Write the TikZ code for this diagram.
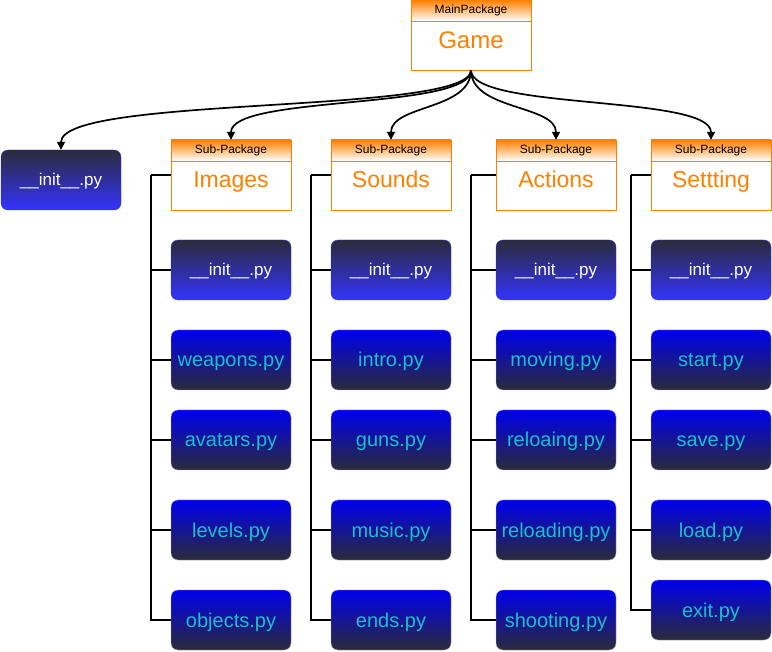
\documentclass[tikz,border=0pt]{standalone}
\usepackage{fontspec}
\setmainfont{Liberation Sans}
\usetikzlibrary{arrows.meta}
\definecolor{pkgorange}{RGB}{255,128,0}
\definecolor{darkslate}{RGB}{43,43,58}
\definecolor{initblue}{RGB}{51,51,255}
\definecolor{fileblue}{RGB}{0,0,238}
\definecolor{filecyan}{RGB}{26,190,204}
\tikzset{
  pkg/.style={draw=pkgorange, fill=white, minimum width=120pt, minimum height=70pt,
              text=pkgorange, font=\fontsize{23}{23}\selectfont, text height=25pt, text depth=0pt},
  pkghead/.style={draw=pkgorange, top color=pkgorange, bottom color=white, minimum width=120pt,
              minimum height=21pt, anchor=north, font=\fontsize{12}{12}\selectfont, inner sep=0pt},
  initbox/.style={draw=initblue, rounded corners=7pt, top color=darkslate, bottom color=initblue,
              minimum width=120pt, minimum height=60pt, text=white, font=\fontsize{17}{17}\selectfont,
              text height=12pt, text depth=0pt},
  filebox/.style={draw=gray!70, rounded corners=7pt, top color=fileblue, bottom color=darkslate,
              minimum width=120pt, minimum height=60pt, text=filecyan, font=\fontsize{20}{20}\selectfont,
              text height=14pt, text depth=0pt},
  branch/.style={line width=1.8pt},
  arr/.style={line width=1.7pt, -{Triangle[length=8pt,width=8pt]}}
}
\begin{document}
\begin{tikzpicture}[x=1pt,y=-1pt]
  \useasboundingbox (0,0) rectangle (772,652);
  % main package
  \node[pkg, font=\fontsize{24}{24}\selectfont, text height=28pt] (game) at (471,35) {Game};
  \node[pkghead] (gamehd) at (game.north) {MainPackage};
  \node[initbox] (initL) at (61,180) {\_\_init\_\_.py};
  % sub-packages
  \node[pkg] (img) at (231,175) {Images};
  \node[pkghead] (imghd) at (img.north) {Sub-Package};
  \node[pkg] (snd) at (391,175) {Sounds};
  \node[pkghead] (sndhd) at (snd.north) {Sub-Package};
  \node[pkg] (act) at (556,175) {Actions};
  \node[pkghead] (acthd) at (act.north) {Sub-Package};
  \node[pkg] (set) at (711,175) {Settting};
  \node[pkghead] (sethd) at (set.north) {Sub-Package};
  % modules
  \node[initbox] (img0) at (231,270) {\_\_init\_\_.py};
  \node[filebox] (img1) at (231,360) {weapons.py};
  \node[filebox] (img2) at (231,440) {avatars.py};
  \node[filebox] (img3) at (231,530) {levels.py};
  \node[filebox] (img4) at (231,620) {objects.py};
  \node[initbox] (snd0) at (391,270) {\_\_init\_\_.py};
  \node[filebox] (snd1) at (391,360) {intro.py};
  \node[filebox] (snd2) at (391,440) {guns.py};
  \node[filebox] (snd3) at (391,530) {music.py};
  \node[filebox] (snd4) at (391,620) {ends.py};
  \node[initbox] (act0) at (556,270) {\_\_init\_\_.py};
  \node[filebox] (act1) at (556,360) {moving.py};
  \node[filebox] (act2) at (556,440) {reloaing.py};
  \node[filebox] (act3) at (556,530) {reloading.py};
  \node[filebox] (act4) at (556,620) {shooting.py};
  \node[initbox] (set0) at (711,270) {\_\_init\_\_.py};
  \node[filebox] (set1) at (711,360) {start.py};
  \node[filebox] (set2) at (711,440) {save.py};
  \node[filebox] (set3) at (711,530) {load.py};
  \node[filebox] (set4) at (711,610) {exit.py};
  % tree lines
  \foreach \p/\d in {img/20,snd/20,act/25,set/20} {
    \coordinate (\p trunk) at ([xshift=-\d pt]\p.west);
    \draw[branch] (\p.west) -- (\p trunk);
    \foreach \i in {0,...,4}
      \draw[branch] (\p trunk) |- (\p\i.west);
  }
  % arrows
  \draw[arr] (game.south) .. controls +(0,45) and +(0,-55) .. (initL.north);
  \draw[arr] (game.south) .. controls +(0,40) and +(0,-45) .. (img.north);
  \draw[arr] (game.south) .. controls +(0,40) and +(0,-35) .. (snd.north);
  \draw[arr] (game.south) .. controls +(0,40) and +(0,-35) .. (act.north);
  \draw[arr] (game.south) .. controls +(0,40) and +(0,-45) .. (set.north);
\end{tikzpicture}
\end{document}
